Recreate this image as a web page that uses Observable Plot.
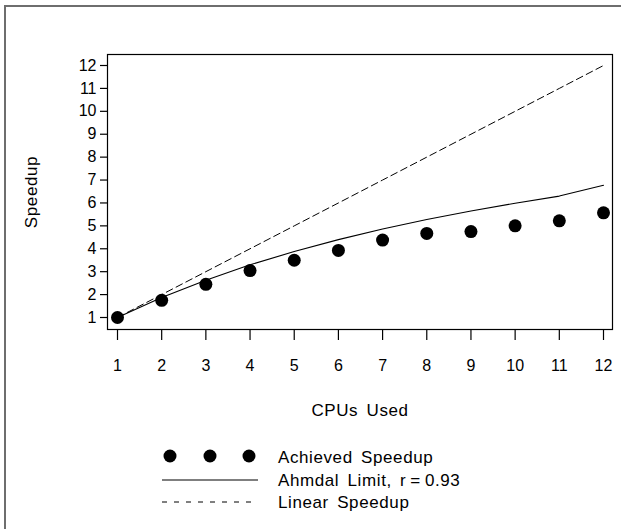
<!DOCTYPE html>
<html><head><meta charset="utf-8">
<script src="https://cdn.jsdelivr.net/npm/d3@7"></script>
<script src="https://cdn.jsdelivr.net/npm/@observablehq/plot@0.6"></script>
<style>
html,body{margin:0;padding:0;background:#fff;}
#wrap{position:relative;width:621px;height:529px;overflow:hidden;font-family:"Liberation Sans",Arial,sans-serif;}
#border{position:absolute;left:4px;top:5px;width:700px;height:600px;border-left:2px solid #6e6e6e;border-top:2px solid #6e6e6e;}
#chart{position:absolute;left:0;top:0;}
#legend{position:absolute;left:0;top:430px;}
svg{font-family:"Liberation Sans",Arial,sans-serif;}
.wide{letter-spacing:0.6px;word-spacing:3px;}
</style></head><body>
<div id="wrap"><div id="border"></div><div id="chart"></div><div id="legend"></div></div>
<script>
// ---- data ----
const cpus = [1, 2, 3, 4, 5, 6, 7, 8, 9, 10, 11, 12];
const achievedSpeedup = [1.00, 1.75, 2.45, 3.05, 3.50, 3.93, 4.38, 4.67, 4.75, 5.00, 5.22, 5.57];
const amdahlLimit = [1.00, 1.87, 2.63, 3.30, 3.88, 4.40, 4.86, 5.28, 5.65, 5.99, 6.30, 6.77];
const linearSpeedup = [1, 2, 3, 4, 5, 6, 7, 8, 9, 10, 11, 12];
const seriesNames = ["Achieved Speedup", "Ahmdal Limit, r\u2009=\u20090.93", "Linear Speedup"];
const xTickValues = [1, 2, 3, 4, 5, 6, 7, 8, 9, 10, 11, 12];
const yTickValues = [1, 2, 3, 4, 5, 6, 7, 8, 9, 10, 11, 12];
const xLabel = "CPUs Used";
const yLabel = "Speedup";

const achievedData = cpus.map((c, i) => ({x: c, y: achievedSpeedup[i]}));
const amdahlData = cpus.map((c, i) => ({x: c, y: amdahlLimit[i]}));
const linearData = cpus.map((c, i) => ({x: c, y: linearSpeedup[i]}));

const plotH = 430;
const chart = Plot.plot({
  width: 621,
  height: plotH,
  marginLeft: 107,
  marginRight: 9,
  marginTop: 54,
  marginBottom: plotH - 329,
  style: {fontFamily: "Liberation Sans, Arial, sans-serif", background: "transparent", color: "#000"},
  x: {domain: [1, 12], insetLeft: 10, insetRight: 9},
  y: {domain: [1, 12], insetTop: 11, insetBottom: 12},
  marks: [
    Plot.frame({stroke: "#000", strokeWidth: 1.2}),
    Plot.axisX(xTickValues, {anchor: "bottom", tickSize: 11, tickPadding: 19, label: null, tickFormat: d => String(d), strokeWidth: 1.2, stroke: "#000", fontSize: 16}),
    Plot.axisY(yTickValues, {anchor: "left", tickSize: 7, tickPadding: 4, label: null, tickFormat: d => String(d), strokeWidth: 1.2, stroke: "#000", fontSize: 16}),
    Plot.line(linearData, {x: "x", y: "y", stroke: "#000", strokeWidth: 1, strokeDasharray: "7,4"}),
    Plot.line(amdahlData, {x: "x", y: "y", stroke: "#000", strokeWidth: 1.1}),
    Plot.dot(achievedData, {x: "x", y: "y", r: 6.5, fill: "#000", stroke: "none"}),
    Plot.text([yLabel], {frameAnchor: "left", dx: -76, rotate: -90, fontSize: 17, textAnchor: "middle", lineAnchor: "middle", fill: "#000", className: "wide"}),
    Plot.text([xLabel], {frameAnchor: "bottom", dy: 81, fontSize: 17, textAnchor: "middle", lineAnchor: "middle", fill: "#000", className: "wide"})
  ]
});
document.getElementById("chart").appendChild(chart);

// ---- legend ----
const lg = d3.select("#legend").append("svg").attr("width", 621).attr("height", 99);
const rowY = [27, 50, 72];
const textX = 278;
lg.selectAll("circle").data([170, 210, 249]).join("circle")
  .attr("cx", d => d).attr("cy", rowY[0] - 1).attr("r", 6.5).attr("fill", "#000");
lg.append("line").attr("x1", 162).attr("x2", 258).attr("y1", rowY[1]).attr("y2", rowY[1])
  .attr("stroke", "#000").attr("stroke-width", 1.1);
lg.append("line").attr("x1", 162).attr("x2", 258).attr("y1", rowY[2]).attr("y2", rowY[2])
  .attr("stroke", "#000").attr("stroke-width", 1).attr("stroke-dasharray", "5,7");
lg.selectAll("text").data(seriesNames).join("text")
  .attr("x", textX).attr("y", (d, i) => rowY[i]).attr("dy", "0.35em")
  .attr("font-size", 17).attr("class", "wide").attr("fill", "#000").text(d => d);
</script>
</body></html>
